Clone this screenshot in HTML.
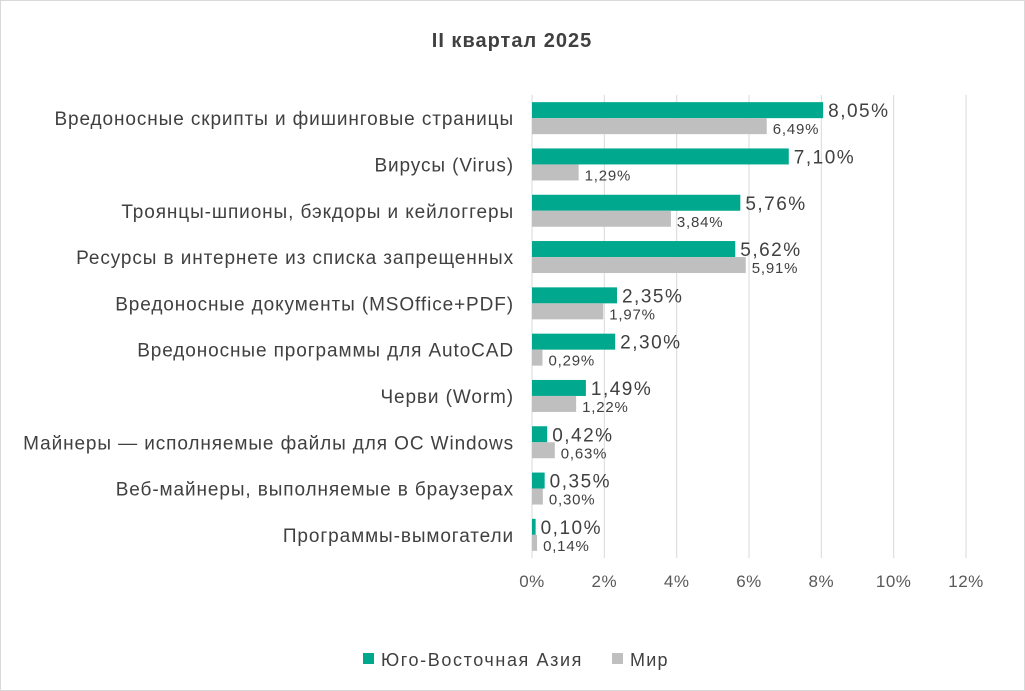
<!DOCTYPE html>
<html><head><meta charset="utf-8"><style>
html,body{margin:0;padding:0;background:#fff;}
svg{display:block;font-family:"Liberation Sans",sans-serif;}
</style></head><body>
<svg id="chart" width="1025" height="691">
<rect x="0.5" y="0.5" width="1024" height="690" fill="#fff" stroke="#d9d9d9"/>
<text x="512" y="47" text-anchor="middle" font-size="20" letter-spacing="1" font-weight="bold" fill="#404040">II квартал 2025</text>
<g id="grid"></g><g id="bars"></g><g id="labels"></g>
<g>
<rect x="363" y="653" width="11" height="11" fill="#00a88e"/>
<text x="381" y="666" font-size="18" letter-spacing="1.6" fill="#404040">Юго-Восточная Азия</text>
<rect x="612" y="653" width="11" height="11" fill="#bfbfbf"/>
<text x="630" y="666" font-size="18" letter-spacing="1.2" fill="#404040">Мир</text>
</g>
</svg>
<script>
const categories=["Вредоносные скрипты и фишинговые страницы","Вирусы (Virus)","Троянцы-шпионы, бэкдоры и кейлоггеры","Ресурсы в интернете из списка запрещенных","Вредоносные документы (MSOffice+PDF)","Вредоносные программы для AutoCAD","Черви (Worm)","Майнеры — исполняемые файлы для ОС Windows","Веб-майнеры, выполняемые в браузерах","Программы-вымогатели"];
const seaValues=[8.05,7.10,5.76,5.62,2.35,2.30,1.49,0.42,0.35,0.10];
const worldValues=[6.49,1.29,3.84,5.91,1.97,0.29,1.22,0.63,0.30,0.14];
const ticks=[0,2,4,6,8,10,12];
const NS="http://www.w3.org/2000/svg";
const x0=532,pxPer=(966-532)/12,top0=95,rowH=46.3,barH=16;
const xs=v=>x0+v*pxPer;
const yc=i=>top0+rowH*(i+0.5);
function mk(t,a,p){const e=document.createElementNS(NS,t);for(const k in a)e.setAttribute(k,a[k]);p.appendChild(e);return e;}
const fmt=v=>v.toFixed(2).replace('.',',')+'%';
const grid=document.getElementById('grid'),bars=document.getElementById('bars'),labels=document.getElementById('labels');
ticks.forEach(t=>{
 const l=mk('line',{x1:xs(t),x2:xs(t),y1:top0,y2:top0+rowH*10,stroke:'#d9d9d9','stroke-width':1},grid);
 
 
 const tx=mk('text',{x:xs(t),y:587,'text-anchor':'middle','font-size':17,'letter-spacing':0.5,fill:'#595959'},grid);
 tx.textContent=t+'%';
 
 
});
categories.forEach((c,i)=>{
 const cy=yc(i);
 const ct=mk('text',{x:514,y:cy+7,'text-anchor':'end','font-size':19,'letter-spacing':0.9,fill:'#404040'},labels);
 ct.textContent=c;
 
 
 const g=mk('rect',{x:x0,y:cy-barH,width:xs(seaValues[i])-x0,height:barH,fill:'#00a88e'},bars);
 
 
 const w=mk('rect',{x:x0,y:cy,width:xs(worldValues[i])-x0,height:barH,fill:'#bfbfbf'},bars);
 
 
 const gl=mk('text',{x:xs(seaValues[i])+5,y:cy-1,'font-size':19,'letter-spacing':1.5,fill:'#404040'},labels);
 gl.textContent=fmt(seaValues[i]);
 
 
 const wl=mk('text',{x:xs(worldValues[i])+6,y:cy+16,'font-size':15,'letter-spacing':0.8,fill:'#404040'},labels);
 wl.textContent=fmt(worldValues[i]);
 
 
});
</script>
</body></html>
